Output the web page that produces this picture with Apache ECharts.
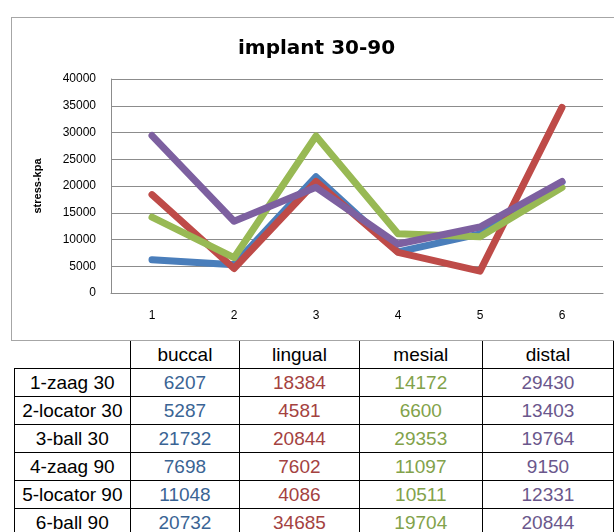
<!DOCTYPE html>
<html>
<head>
<meta charset="utf-8">
<script src="https://cdn.jsdelivr.net/npm/echarts@6/dist/echarts.min.js"></script>
<style>
  html, body { margin: 0; padding: 0; background: #fff; width: 614px; height: 532px; overflow: hidden; }
  #frame { position: absolute; left: 11px; top: 17px; width: 620px; height: 324px; border: 1px solid #a6a6a6; box-sizing: border-box; }
  #chart { position: absolute; left: 0; top: 0; width: 614px; height: 340px; }
  #tbl { position: absolute; left: 14px; top: 341px; border-collapse: collapse; table-layout: fixed;
         font-family: 'Liberation Sans', Arial, sans-serif; font-size: 19px; color: #000; }
  #tbl td { border: 1.5px solid #000; text-align: center; padding: 0; height: 27px; line-height: 27px; white-space: nowrap; }
  #tbl tr.head td { border-top: none; }
  #tbl tr.head td.blank { border: none; }
</style>
</head>
<body>
<div id="frame"></div>
<div id="chart"></div>
<table id="tbl"></table>
<script>
// x categories (1..6 = the six designs)
const categories = ['1', '2', '3', '4', '5', '6']
const rowLabels = ['1-zaag 30', '2-locator 30', '3-ball 30', '4-zaag 90', '5-locator 90', '6-ball 90']

// stress values per surface
const buccal = [6207, 5287, 21732, 7698, 11048, 20732]
const lingual = [18384, 4581, 20844, 7602, 4086, 34685]
const mesial = [14172, 6600, 29353, 11097, 10511, 19704]
const distal = [29430, 13403, 19764, 9150, 12331, 20844]

const seriesNames = ['buccal', 'lingual', 'mesial', 'distal']
const seriesData = [buccal, lingual, mesial, distal]
const lineColors = ['#4a7ebb', '#be4b48', '#98b954', '#7d60a0']
const textColors = ['#3a6494', '#a4423f', '#82a24a', '#6a578c']

const font = "'Liberation Sans', Arial, sans-serif"
const gridColor = '#8c8c8c'

const chart = echarts.init(document.getElementById('chart'))
chart.setOption({
  animation: false,
  title: {
    text: 'implant 30-90',
    left: 233,
    top: 34,
    textStyle: { fontFamily: "'DejaVu Sans', sans-serif", fontSize: 20, fontWeight: 'bold', color: '#000' },
  },
  grid: { left: 111, top: 79, width: 492, height: 214 },
  xAxis: {
    type: 'category',
    data: categories,
    boundaryGap: true,
    axisLine: { lineStyle: { color: gridColor, width: 1 } },
    axisTick: { show: false },
    axisLabel: { color: '#000', fontFamily: font, fontSize: 12, margin: 17 },
  },
  yAxis: {
    type: 'value',
    min: 0,
    max: 40000,
    interval: 5000,
    name: 'stress-kpa',
    nameLocation: 'middle',
    nameGap: 68,
    nameTextStyle: { color: '#000', fontFamily: font, fontSize: 11, fontWeight: 'bold' },
    axisLine: { show: true, lineStyle: { color: gridColor, width: 1 } },
    axisTick: { show: false },
    splitLine: { lineStyle: { color: gridColor, width: 1 } },
    axisLabel: { color: '#000', fontFamily: font, fontSize: 12, margin: 15, formatter: v => String(v) },
  },
  series: seriesNames.map((name, i) => ({
    name,
    type: 'line',
    data: seriesData[i],
    symbol: 'none',
    lineStyle: { color: lineColors[i], width: 7, cap: 'round', join: 'round' },
  })),
})

// data table under the chart
const colWidths = [116, 111, 121, 125, 133]
const tbl = document.getElementById('tbl')
const cg = document.createElement('colgroup')
colWidths.forEach(w => {
  const c = document.createElement('col')
  c.style.width = w + 'px'
  cg.appendChild(c)
})
tbl.appendChild(cg)

const head = document.createElement('tr')
head.className = 'head'
const blank = document.createElement('td')
blank.className = 'blank'
head.appendChild(blank)
seriesNames.forEach(n => {
  const td = document.createElement('td')
  td.textContent = n
  head.appendChild(td)
})
tbl.appendChild(head)

rowLabels.forEach((label, r) => {
  const tr = document.createElement('tr')
  const th = document.createElement('td')
  th.textContent = label
  tr.appendChild(th)
  seriesData.forEach((arr, s) => {
    const td = document.createElement('td')
    td.textContent = arr[r]
    td.style.color = textColors[s]
    tr.appendChild(td)
  })
  tbl.appendChild(tr)
})
</script>
</body>
</html>
